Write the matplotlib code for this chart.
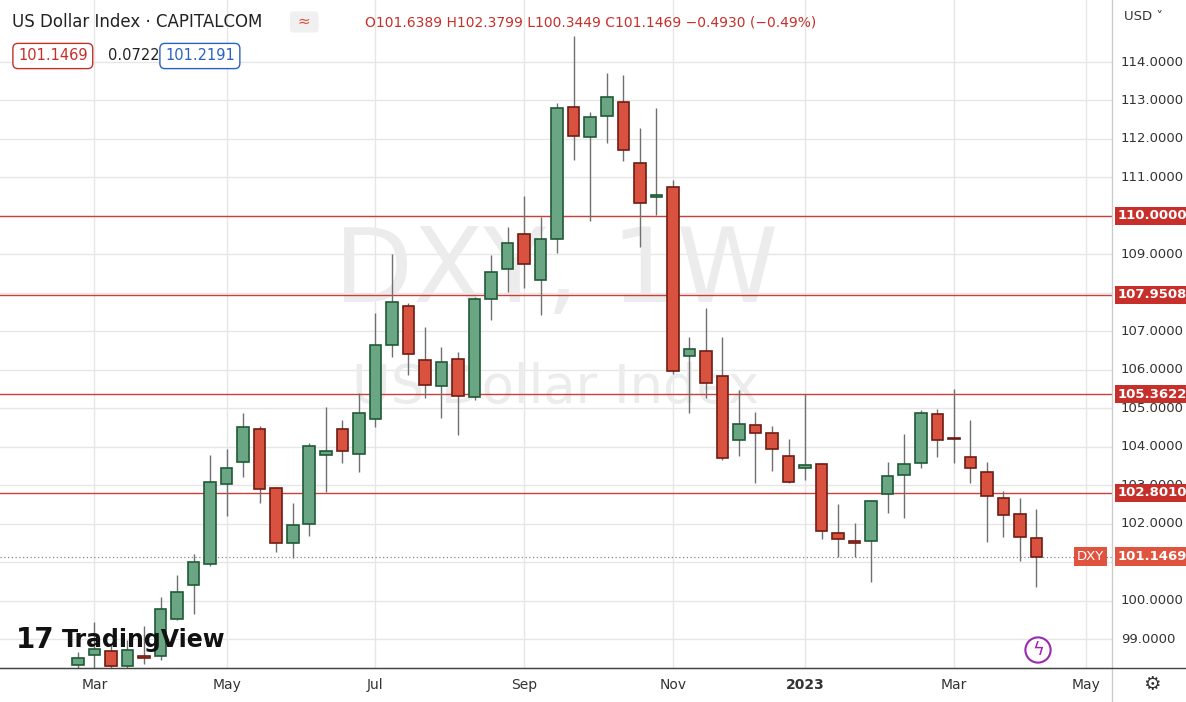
import numpy as np
import matplotlib.pyplot as plt
import matplotlib.dates as mdates
from datetime import date, timedelta

# weekly candles, first week 2022-02-21
start = date(2022, 2, 21)
opens = [98.32, 98.58, 98.69, 98.30, 98.56, 98.56, 99.52, 100.40, 100.95, 103.03,
         103.60, 104.46, 102.92, 101.49, 101.99, 103.78, 104.46, 103.81, 104.72, 106.64,
         107.66, 106.25, 105.58, 106.28, 105.29, 107.84, 108.62, 109.53, 108.33, 109.40,
         112.83, 112.05, 112.60, 112.96, 111.37, 110.49, 110.75, 106.36, 106.49, 105.84,
         104.17, 104.56, 104.35, 103.76, 103.44, 103.55, 101.75, 101.55, 101.55, 102.77,
         103.26, 103.57, 104.85, 104.22, 103.73, 103.34, 102.66, 102.25, 101.6389]
highs = [98.66, 99.44, 98.84, 98.97, 99.34, 100.09, 100.66, 101.21, 103.78, 103.94,
         104.87, 104.54, 102.95, 102.53, 104.09, 105.02, 104.69, 105.39, 107.47, 109.01,
         107.73, 107.11, 106.59, 106.46, 107.89, 108.98, 109.71, 110.52, 109.97, 112.93,
         114.68, 112.70, 113.71, 113.66, 112.28, 112.80, 110.93, 106.85, 107.60, 106.85,
         105.47, 104.90, 104.54, 104.20, 105.37, 103.57, 102.51, 102.01, 102.61, 103.60,
         104.33, 104.95, 104.98, 105.50, 104.69, 103.60, 102.85, 102.66, 102.3799]
lows = [98.24, 98.14, 98.14, 98.19, 98.35, 98.45, 99.49, 99.65, 100.90, 102.20,
        103.21, 102.53, 101.26, 101.10, 101.68, 102.82, 103.57, 103.34, 104.51, 106.33,
        105.86, 105.26, 104.74, 104.30, 105.21, 107.29, 108.02, 108.12, 107.42, 109.03,
        111.45, 109.87, 111.89, 111.43, 109.19, 110.02, 105.89, 104.87, 105.26, 103.65,
        103.76, 103.05, 103.37, 103.05, 103.13, 101.60, 101.13, 101.13, 100.48, 102.27,
        102.14, 103.44, 103.73, 103.57, 103.05, 101.52, 101.65, 101.03, 100.3449]
closes = [98.50, 98.74, 98.30, 98.71, 98.50, 99.78, 100.22, 101.00, 103.08, 103.44,
          104.51, 102.90, 101.49, 101.96, 104.02, 103.88, 103.89, 104.87, 106.64, 107.76,
          106.41, 105.60, 106.20, 105.32, 107.84, 108.54, 109.29, 108.75, 109.40, 112.80,
          112.08, 112.57, 113.09, 111.71, 110.33, 110.54, 105.97, 106.54, 105.65, 103.70,
          104.59, 104.35, 103.94, 103.08, 103.52, 101.81, 101.60, 101.49, 102.59, 103.24,
          103.55, 104.87, 104.17, 104.20, 103.44, 102.72, 102.22, 101.65, 101.1469]
levels = [110.0, 107.9508, 105.3622, 102.8010]
last_price = 101.1469
price_ticks = list(range(99, 115))
# month labels sit on weekly bars near the start of each month
month_ticks = [date(2022, 2, 28), date(2022, 4, 25), date(2022, 6, 27), date(2022, 8, 29),
               date(2022, 10, 31), date(2022, 12, 26), date(2023, 2, 27), date(2023, 4, 24)]
month_labels = ["Mar", "May", "Jul", "Sep", "Nov", "2023", "Mar", "May"]

W, H = 1186, 702
fig = plt.figure(figsize=(W / 100, H / 100), dpi=100)
ax = fig.add_axes([0, 34 / H, 1112 / W, 668 / H])
ax.set_axisbelow(True)

green, green_e = "#6aa584", "#1f5a35"
red, red_e = "#d9523f", "#6e1c12"
dates = [mdates.date2num(start + timedelta(weeks=i)) for i in range(len(opens))]
for x, o, h, l, c in zip(dates, opens, highs, lows, closes):
    up = c >= o
    ax.vlines(x, l, h, color="#707070", lw=1, zorder=3)
    ax.bar(x, max(abs(c - o), 0.04), bottom=min(o, c), width=4.9,
           color=green if up else red, edgecolor=green_e if up else red_e,
           lw=1.2, zorder=4)

for lv in levels:
    ax.axhline(lv, color="#c9403a", lw=1, zorder=2)
ax.axhline(last_price, color="#888888", lw=0.9, ls=(0, (1, 2)), zorder=2)

x0 = mdates.date2num(start) - 33
x1 = mdates.date2num(start + timedelta(weeks=58)) + 32
ax.set_xlim(x0, x1)
ax.set_ylim(98.25, 115.61)
ax.set_yticks(price_ticks)
ax.set_xticks([mdates.date2num(d) for d in month_ticks])
ax.grid(True, color="#e6e6e6", lw=1)
ax.tick_params(length=0, labelleft=False, labelbottom=False)
for s in ["top", "right", "left"]:
    ax.spines[s].set_visible(False)
ax.spines["bottom"].set_color("#444444")

# watermark
ax.text(0.5, 0.59, "DXY, 1W", transform=ax.transAxes, fontsize=74,
        color="#ececec", ha="center", va="center", zorder=1)
ax.text(0.5, 0.42, "US Dollar Index", transform=ax.transAxes, fontsize=38,
        color="#ececec", ha="center", va="center", zorder=1)

def fx(px):
    return px / W

def fy(py):
    return 1 - py / H

# right price scale
fig.add_artist(plt.Line2D([fx(1112), fx(1112)], [0, 1], color="#cccccc", lw=1))
fig.add_artist(plt.Line2D([0, 1], [fy(668), fy(668)], color="#444444", lw=1))
for p in price_ticks:
    py = 62 + (114 - p) * 38.47
    fig.text(fx(1121), fy(py), f"{p:.4f}", fontsize=9.5, color="#333333", va="center")
for lv in levels:
    py = 62 + (114 - lv) * 38.47
    fig.text(fx(1118), fy(py), f"{lv:.4f}", fontsize=9.5, color="white", va="center",
             weight="bold", bbox=dict(boxstyle="square,pad=0.2", fc="#c62f2a", ec="none"))
py = 62 + (114 - last_price) * 38.47
fig.text(fx(1118), fy(py), f"{last_price:.4f}", fontsize=9.5, color="white", va="center",
         weight="bold", bbox=dict(boxstyle="square,pad=0.2", fc="#e0533f", ec="none"))
fig.text(fx(1077), fy(py), "DXY", fontsize=9.5, color="white", va="center",
         bbox=dict(boxstyle="square,pad=0.2", fc="#e0533f", ec="none"))
fig.text(fx(1124), fy(16), "USD ˅", fontsize=9.5, color="#333333", va="center")

# bottom axis labels
for d, lab in zip(month_ticks, month_labels):
    xx = (mdates.date2num(d) - x0) / (x1 - x0) * 1112
    fig.text(fx(xx), fy(685), lab, fontsize=10, color="#333333", ha="center", va="center",
             weight="bold" if lab == "2023" else "normal")
fig.text(fx(1152), fy(685), "⚙", fontsize=14, color="#333333", ha="center", va="center")

# header
fig.text(fx(12), fy(22), "US Dollar Index · CAPITALCOM", fontsize=12, color="#222222", va="center")
fig.text(fx(293), fy(22), " ≈ ", fontsize=11, color="#e0533f", va="center",
         bbox=dict(boxstyle="round,pad=0.2", fc="#f0f0f0", ec="none"))
fig.text(fx(365), fy(22), "O101.6389 H102.3799 L100.3449 C101.1469 −0.4930 (−0.49%)",
         fontsize=10, color="#c62f2a", va="center")
fig.text(fx(18), fy(56), "101.1469", fontsize=10.5, color="#c62f2a", va="center",
         bbox=dict(boxstyle="round,pad=0.35", fc="white", ec="#c62f2a"))
fig.text(fx(108), fy(56), "0.0722", fontsize=10.5, color="#222222", va="center")
fig.text(fx(165), fy(56), "101.2191", fontsize=10.5, color="#2962c6", va="center",
         bbox=dict(boxstyle="round,pad=0.35", fc="white", ec="#2962c6"))

# logo
fig.text(fx(16), fy(640), "17", fontsize=20, weight="bold", color="#111111", va="center")
fig.text(fx(62), fy(640), "TradingView", fontsize=17, weight="bold", color="#111111", va="center")
fig.text(fx(1038), fy(650), "ϟ", fontsize=13, color="#9c27b0", ha="center", va="center",
         bbox=dict(boxstyle="circle,pad=0.2", fc="white", ec="#9c27b0", lw=1.5))

fig.savefig("out.png", dpi=100)
